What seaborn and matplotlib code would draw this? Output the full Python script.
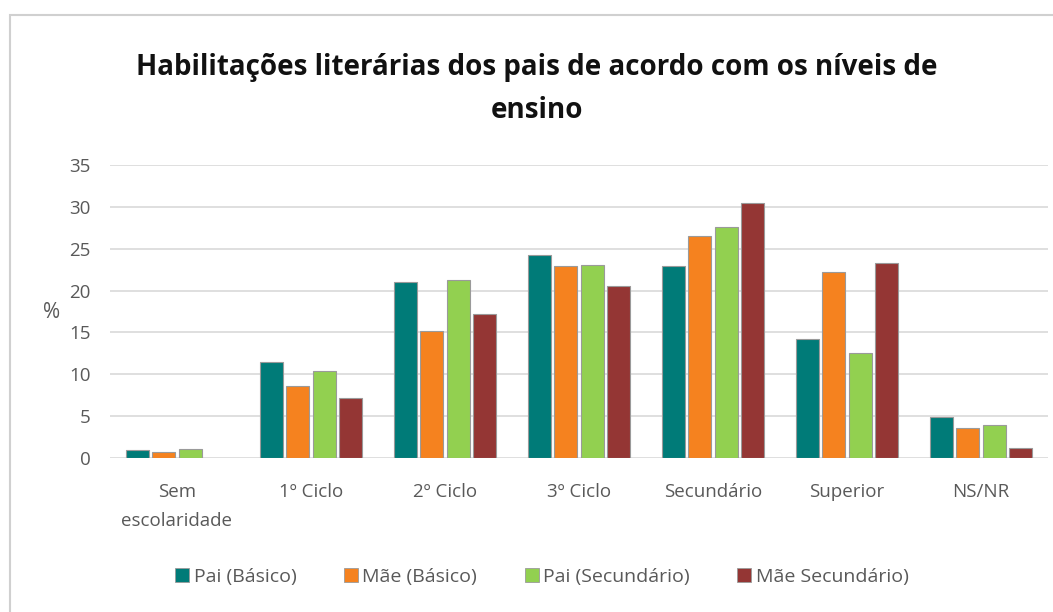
import matplotlib
matplotlib.use("Agg")
import matplotlib.pyplot as plt
import seaborn as sns
import pandas as pd
from matplotlib.patches import Rectangle
from matplotlib.lines import Line2D

categories = ["Sem\nescolaridade", "1º Ciclo", "2º Ciclo", "3º Ciclo", "Secundário", "Superior", "NS/NR"]
series = ["Pai (Básico)", "Mãe (Básico)", "Pai (Secundário)", "Mãe Secundário)"]
pai_basico = [0.9, 11.5, 21.0, 24.2, 22.9, 14.2, 4.9]
mae_basico = [0.7, 8.6, 15.2, 22.9, 26.5, 22.2, 3.6]
pai_secundario = [1.1, 10.4, 21.3, 23.1, 27.6, 12.6, 4.0]
mae_secundario = [None, 7.2, 17.2, 20.5, 30.5, 23.3, 1.2]
colors = ["#007B78", "#F5821F", "#92D050", "#943634"]
yticks = [0, 5, 10, 15, 20, 25, 30, 35]

rows = []
for name, vals in zip(series, [pai_basico, mae_basico, pai_secundario, mae_secundario]):
    for c, v in zip(categories, vals):
        if v is not None:
            rows.append({"cat": c, "serie": name, "val": v})
df = pd.DataFrame(rows)

sns.set_theme(style="white")
plt.rcParams["font.family"] = ["Open Sans", "DejaVu Sans"]

W, H = 1053, 612
fig = plt.figure(figsize=(W / 100, H / 100), dpi=100)
ax = fig.add_axes([110 / W, 1 - 458 / H, (1048 - 110) / W, (458 - 165) / H])

sns.barplot(data=df, x="cat", y="val", hue="serie", order=categories, hue_order=series,
            palette=colors, saturation=1, width=0.78, gap=0.12, edgecolor="#9a9a9a",
            linewidth=0.8, errorbar=None, ax=ax, legend=False, zorder=3)

ax.set_xlim(-0.5, 6.5)
ax.set_ylim(0, 35)
ax.set_yticks(yticks)
ax.set_yticklabels([str(t) for t in yticks])
ax.yaxis.grid(True, color="#d9d9d9", linewidth=1.2, zorder=0)
ax.set_axisbelow(True)
for s in ax.spines.values():
    s.set_visible(False)
ax.tick_params(axis="both", length=0, colors="#595959", labelsize=13.5)
ax.tick_params(axis="x", pad=18)
ax.tick_params(axis="y", pad=14)
ax.set_xlabel("")
ax.set_ylabel("")
for lab in ax.get_xticklabels():
    lab.set_linespacing(1.8)

fig.text(52 / W, 1 - 312 / H, "%", fontsize=15, color="#595959", ha="center", va="center")

fig.text(537 / W, 1 - 67 / H, "Habilitações literárias dos pais de acordo com os níveis de",
         fontsize=20, fontweight="bold", color="#111111", ha="center", va="center")
fig.text(537 / W, 1 - 110 / H, "ensino",
         fontsize=20, fontweight="bold", color="#111111", ha="center", va="center")

handles = [Line2D([0], [0], marker="s", linestyle="none", markersize=10,
                  markerfacecolor=c, markeredgecolor="#9a9a9a", markeredgewidth=0.6) for c in colors]
fig.legend(handles, series, loc="center", bbox_to_anchor=(541 / W, 1 - 577 / H), ncol=4,
           frameon=False, fontsize=14, labelcolor="#595959", handletextpad=0.15,
           columnspacing=2.35, handlelength=0.9)

fig.add_artist(Rectangle((10 / W, -0.05), 1.2, 1 - 15 / H + 0.05, transform=fig.transFigure,
                         fill=False, edgecolor="#d0d0d0", linewidth=1.5))

fig.savefig("out.png", dpi=100)
